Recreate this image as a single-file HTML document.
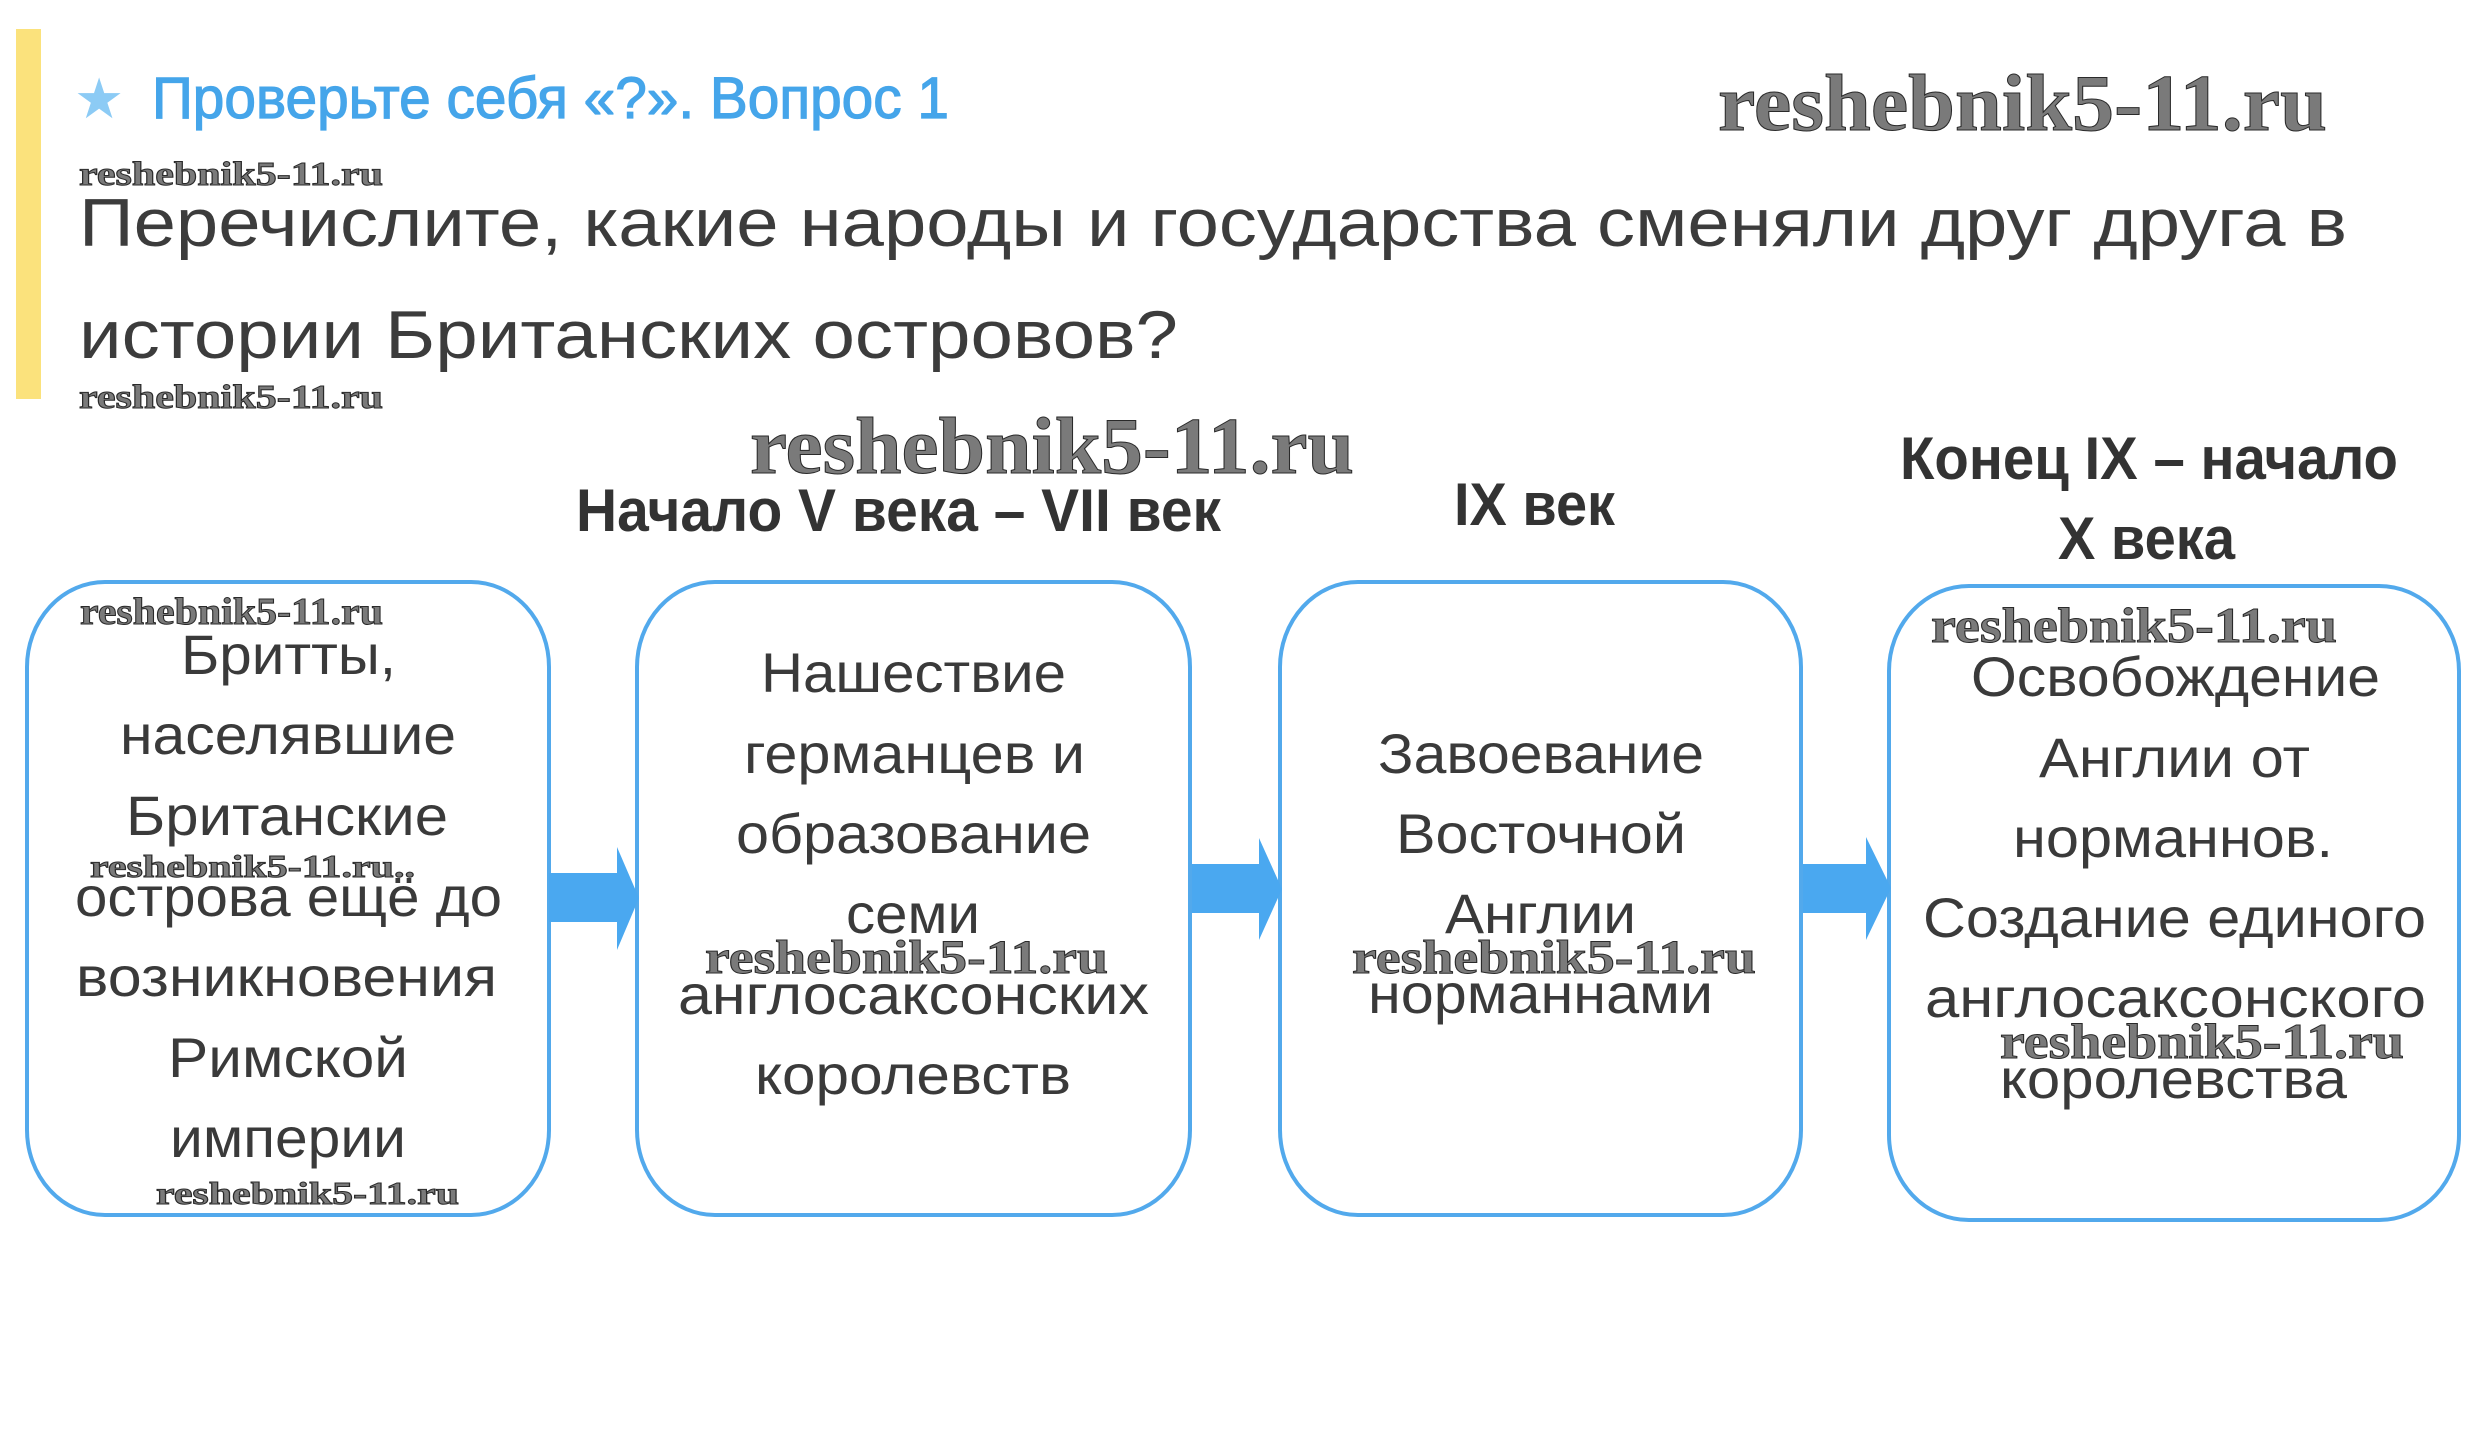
<!DOCTYPE html>
<html>
<head>
<meta charset="utf-8">
<style>
html,body{margin:0;padding:0;background:#fff;}
svg{display:block;}
.q{font-family:"Liberation Sans","DejaVu Sans",sans-serif;fill:#3c3c3c;}
.b{font-family:"Liberation Sans","DejaVu Sans",sans-serif;fill:#3a3a3a;font-size:56px;}
.h{font-family:"Liberation Sans","DejaVu Sans",sans-serif;fill:#333;font-size:60px;font-weight:bold;}
.w{font-family:"Liberation Serif","DejaVu Serif",serif;font-weight:bold;fill:#7a7a7a;stroke:#2a2a2a;stroke-width:1;}
</style>
</head>
<body>
<svg width="2481" height="1434" viewBox="0 0 2481 1434" xmlns="http://www.w3.org/2000/svg">
<rect x="0" y="0" width="2481" height="1434" fill="#fff"/>
<!-- yellow bar -->
<rect x="16" y="29" width="25" height="370" fill="#fbe27c"/>

<!-- title -->
<text x="74" y="118" font-family="DejaVu Sans, sans-serif" font-size="56" fill="#8ccbf5">★</text>
<text class="q" x="152" y="118" font-size="58" style="fill:#45a5ea;stroke:#45a5ea;stroke-width:1.2" textLength="797" lengthAdjust="spacingAndGlyphs">Проверьте себя «?». Вопрос 1</text>

<!-- question -->
<text class="q" x="79" y="246" font-size="68" textLength="2268" lengthAdjust="spacingAndGlyphs">Перечислите, какие народы и государства сменяли друг друга в</text>
<text class="q" x="79" y="358" font-size="68" textLength="1099" lengthAdjust="spacingAndGlyphs">истории Британских островов?</text>

<!-- headings -->
<text class="h" x="576" y="531" textLength="645" lengthAdjust="spacingAndGlyphs">Начало V века – VII век</text>
<text class="h" x="1454" y="525" textLength="161" lengthAdjust="spacingAndGlyphs">IX век</text>
<text class="h" x="1900" y="479" textLength="498" lengthAdjust="spacingAndGlyphs">Конец IX – начало</text>
<text class="h" x="2058" y="559" textLength="177" lengthAdjust="spacingAndGlyphs">X века</text>

<!-- boxes -->
<g fill="#fff" stroke="#52a9ec" stroke-width="4">
<rect x="27" y="582" width="522" height="633" rx="78" ry="85"/>
<rect x="637" y="582" width="553" height="633" rx="78" ry="85"/>
<rect x="1280" y="582" width="521" height="633" rx="78" ry="85"/>
<rect x="1889" y="586" width="570" height="634" rx="80" ry="85"/>
</g>

<!-- arrows -->
<g fill="#4aa8f0">
<polygon points="549,873 617,873 617,847 639,898 617,950 617,922 549,922"/>
<polygon points="1192,864 1259,864 1259,838 1282,889 1259,940 1259,913 1192,913"/>
<polygon points="1803,864 1866,864 1866,837 1891,888 1866,940 1866,913 1803,913"/>
</g>

<!-- box 1 text -->
<text class="b" x="181" y="674" textLength="215" lengthAdjust="spacingAndGlyphs">Бритты,</text>
<text class="b" x="120" y="754" textLength="336" lengthAdjust="spacingAndGlyphs">населявшие</text>
<text class="b" x="126" y="835" textLength="322" lengthAdjust="spacingAndGlyphs">Британские</text>
<text class="b" x="75" y="916" textLength="427" lengthAdjust="spacingAndGlyphs">острова ещё до</text>
<text class="b" x="76" y="996" textLength="421" lengthAdjust="spacingAndGlyphs">возникновения</text>
<text class="b" x="168" y="1077" textLength="240" lengthAdjust="spacingAndGlyphs">Римской</text>
<text class="b" x="170" y="1157" textLength="236" lengthAdjust="spacingAndGlyphs">империи</text>

<!-- box 2 text -->
<text class="b" x="761" y="692" textLength="305" lengthAdjust="spacingAndGlyphs">Нашествие</text>
<text class="b" x="744" y="773" textLength="341" lengthAdjust="spacingAndGlyphs">германцев и</text>
<text class="b" x="736" y="853" textLength="355" lengthAdjust="spacingAndGlyphs">образование</text>
<text class="b" x="846" y="933" textLength="134" lengthAdjust="spacingAndGlyphs">семи</text>
<text class="b" x="678" y="1014" textLength="471" lengthAdjust="spacingAndGlyphs">англосаксонских</text>
<text class="b" x="755" y="1094" textLength="316" lengthAdjust="spacingAndGlyphs">королевств</text>

<!-- box 3 text -->
<text class="b" x="1378" y="773" textLength="326" lengthAdjust="spacingAndGlyphs">Завоевание</text>
<text class="b" x="1396" y="853" textLength="290" lengthAdjust="spacingAndGlyphs">Восточной</text>
<text class="b" x="1445" y="933" textLength="191" lengthAdjust="spacingAndGlyphs">Англии</text>
<text class="b" x="1368" y="1013" textLength="345" lengthAdjust="spacingAndGlyphs">норманнами</text>

<!-- box 4 text -->
<text class="b" x="1971" y="696" textLength="409" lengthAdjust="spacingAndGlyphs">Освобождение</text>
<text class="b" x="2039" y="777" textLength="271" lengthAdjust="spacingAndGlyphs">Англии от</text>
<text class="b" x="2013" y="857" textLength="320" lengthAdjust="spacingAndGlyphs">норманнов.</text>
<text class="b" x="1923" y="937" textLength="503" lengthAdjust="spacingAndGlyphs">Создание единого</text>
<text class="b" x="1925" y="1017" textLength="501" lengthAdjust="spacingAndGlyphs">англосаксонского</text>
<text class="b" x="2000" y="1098" textLength="347" lengthAdjust="spacingAndGlyphs">королевства</text>

<!-- watermarks -->
<text class="w" x="1718" y="130" font-size="80" stroke-width="1.5" textLength="609" lengthAdjust="spacingAndGlyphs">reshebnik5-11.ru</text>
<text class="w" x="79" y="185" font-size="34" textLength="304" lengthAdjust="spacingAndGlyphs">reshebnik5-11.ru</text>
<text class="w" x="79" y="408" font-size="34" textLength="304" lengthAdjust="spacingAndGlyphs">reshebnik5-11.ru</text>
<text class="w" x="750" y="473" font-size="80" stroke-width="1.5" textLength="604" lengthAdjust="spacingAndGlyphs">reshebnik5-11.ru</text>
<text class="w" x="80" y="624" font-size="38" textLength="303" lengthAdjust="spacingAndGlyphs">reshebnik5-11.ru</text>
<text class="w" x="90" y="877" font-size="32" textLength="325" lengthAdjust="spacingAndGlyphs">reshebnik5-11.ru..</text>
<text class="w" x="156" y="1204" font-size="32" textLength="303" lengthAdjust="spacingAndGlyphs">reshebnik5-11.ru</text>
<text class="w" x="705" y="973" font-size="48" textLength="403" lengthAdjust="spacingAndGlyphs">reshebnik5-11.ru</text>
<text class="w" x="1352" y="973" font-size="48" textLength="404" lengthAdjust="spacingAndGlyphs">reshebnik5-11.ru</text>
<text class="w" x="1931" y="642" font-size="50" textLength="406" lengthAdjust="spacingAndGlyphs">reshebnik5-11.ru</text>
<text class="w" x="2000" y="1058" font-size="50" textLength="404" lengthAdjust="spacingAndGlyphs">reshebnik5-11.ru</text>
</svg>
</body>
</html>
